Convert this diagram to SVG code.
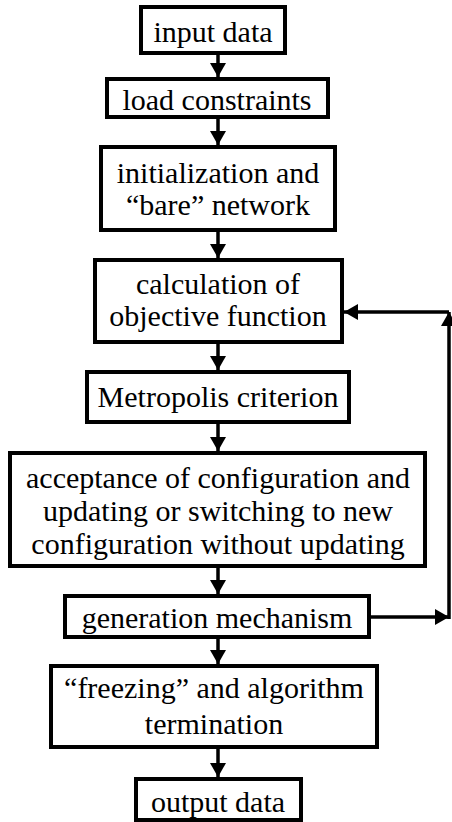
<svg xmlns="http://www.w3.org/2000/svg" width="452" height="822" viewBox="0 0 452 822">
<defs>
<style>
.box{fill:#fff;stroke:#000;stroke-width:4}
.t{font-family:"Liberation Serif","Times New Roman",serif;font-size:30px;fill:#000;text-anchor:middle}
.c{fill:none;stroke:#000;stroke-width:3.5}
</style>
<marker id="ah" viewBox="0 0 14 16" refX="14" refY="8" markerWidth="14" markerHeight="16" markerUnits="userSpaceOnUse" orient="auto">
<path d="M0,0 L14,8 L0,16 z" fill="#000"/>
</marker>
</defs>
<rect width="452" height="822" fill="#fff"/>
<g id="connectors">
<line class="c" x1="218" y1="55" x2="218" y2="77" marker-end="url(#ah)"/>
<line class="c" x1="218" y1="119" x2="218" y2="145" marker-end="url(#ah)"/>
<line class="c" x1="218" y1="232" x2="218" y2="258" marker-end="url(#ah)"/>
<line class="c" x1="218" y1="344" x2="218" y2="370" marker-end="url(#ah)"/>
<line class="c" x1="218" y1="424" x2="218" y2="451" marker-end="url(#ah)"/>
<line class="c" x1="218" y1="568" x2="218" y2="594" marker-end="url(#ah)"/>
<line class="c" x1="218" y1="639" x2="218" y2="664" marker-end="url(#ah)"/>
<line class="c" x1="218" y1="749" x2="218" y2="777" marker-end="url(#ah)"/>
<line class="c" x1="371" y1="617" x2="449" y2="617" marker-end="url(#ah)"/>
<line class="c" x1="449" y1="619" x2="449" y2="312" marker-end="url(#ah)"/>
<line class="c" x1="449" y1="312" x2="344" y2="312" marker-end="url(#ah)"/>
</g>
<g id="n1"><rect class="box" x="141" y="7" width="144" height="46"/><text class="t" x="213" y="42">input data</text></g>
<g id="n2"><rect class="box" x="107" y="79" width="221" height="38"/><text class="t" x="217" y="110">load constraints</text></g>
<g id="n3"><rect class="box" x="101" y="147" width="234" height="83"/><text class="t" x="218" y="183">initialization and</text><text class="t" x="218" y="215">“bare” network</text></g>
<g id="n4"><rect class="box" x="95" y="260" width="247" height="82"/><text class="t" x="218" y="294">calculation of</text><text class="t" x="218" y="326">objective function</text></g>
<g id="n5"><rect class="box" x="87" y="372" width="262" height="50"/><text class="t" x="218" y="407">Metropolis criterion</text></g>
<g id="n6"><rect class="box" x="10" y="453" width="415" height="113"/><text class="t" x="218" y="488">acceptance of configuration and</text><text class="t" x="218" y="521">updating or switching to new</text><text class="t" x="218" y="554">configuration without updating</text></g>
<g id="n7"><rect class="box" x="65" y="596" width="304" height="41"/><text class="t" x="217" y="628">generation mechanism</text></g>
<g id="n8"><rect class="box" x="51" y="666" width="326" height="81"/><text class="t" x="214" y="698">“freezing” and algorithm</text><text class="t" x="214" y="734">termination</text></g>
<g id="n9"><rect class="box" x="136" y="779" width="165" height="41"/><text class="t" x="218" y="812">output data</text></g>
</svg>
